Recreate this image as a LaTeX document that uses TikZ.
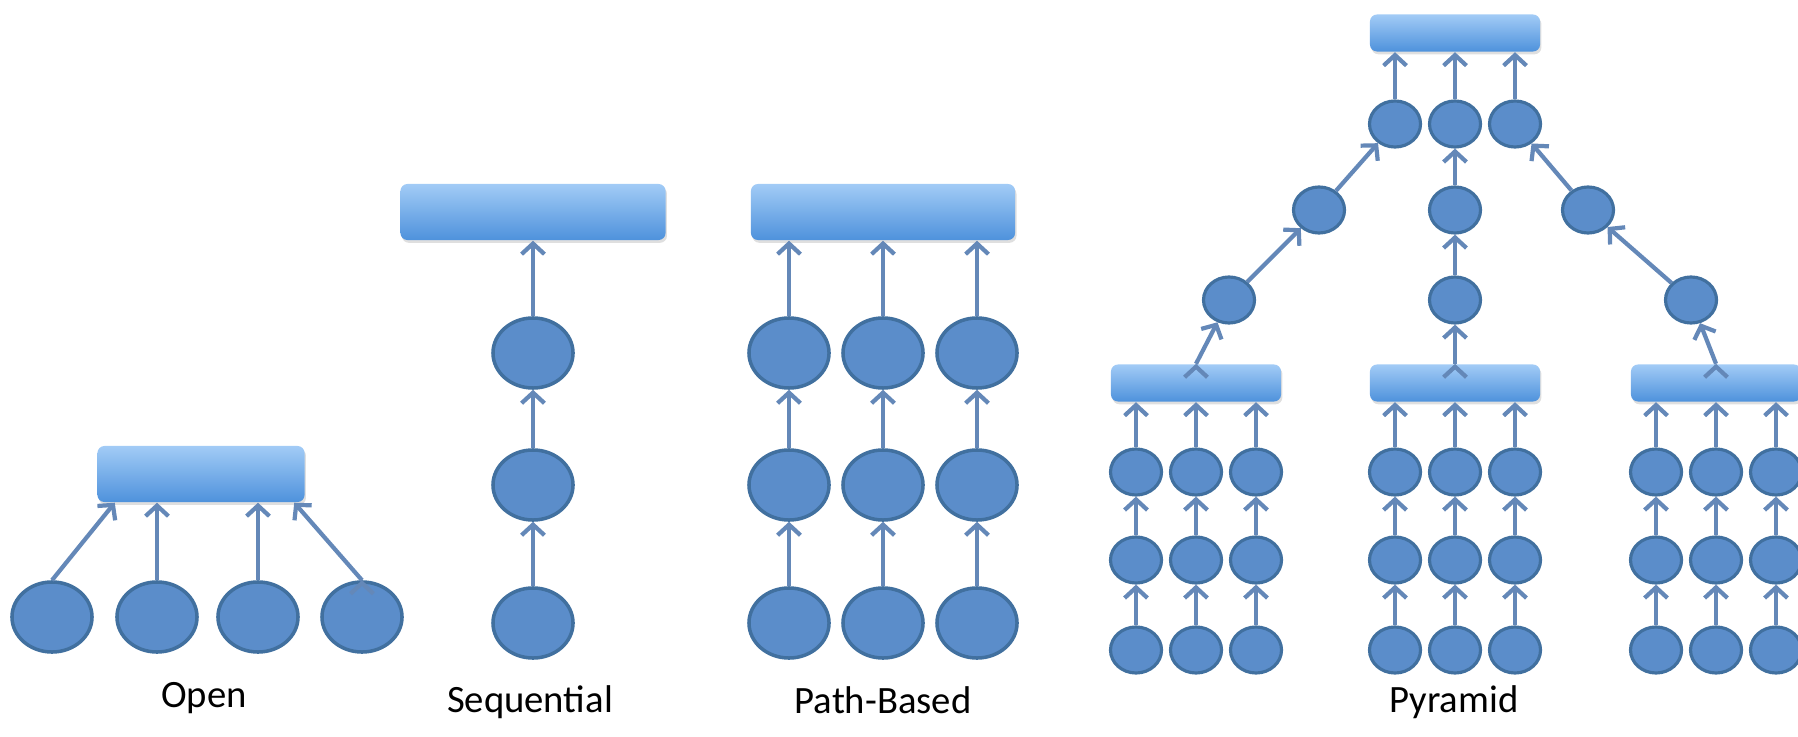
\documentclass[tikz,border=0pt]{standalone}
\usepackage{fontspec}
\setmainfont{Carlito}
\usetikzlibrary{positioning,shapes.geometric,arrows.meta,shadows}
\definecolor{nodeblue}{HTML}{5B8DCA}
\definecolor{nodeedge}{HTML}{41709F}
\definecolor{barlight}{HTML}{A2CBF6}
\definecolor{bardark}{HTML}{4E92DC}
\definecolor{arrowblue}{HTML}{6488B8}
\tikzset{
  bigunit/.style={ellipse,fill=nodeblue,draw=nodeedge,line width=1pt,inner sep=0pt,
    minimum width=0.8cm,minimum height=0.7cm},
  smallunit/.style={ellipse,fill=nodeblue,draw=nodeedge,line width=0.9pt,inner sep=0pt,
    minimum width=0.51cm,minimum height=0.46cm},
  barbox/.style={rectangle,rounded corners=2pt,top color=barlight,bottom color=bardark,
    inner sep=0pt,drop shadow={opacity=0.25,shadow xshift=0.4pt,shadow yshift=-0.8pt}},
  bigbar/.style={barbox,minimum height=0.56cm},
  smallbar/.style={barbox,minimum width=1.7cm,minimum height=0.37cm},
  link/.style={draw=arrowblue,line width=1.2pt,-{Straight Barb[length=3pt,width=6.5pt]}},
  typename/.style={font=\fontsize{11}{13}\selectfont}
}

\begin{document}
\begin{tikzpicture}[x=0.01cm,y=-0.01cm]
\useasboundingbox (0,0) rectangle (1798,737);
\clip (0,0) rectangle (1798,737);

% Open
\node[bigbar,minimum width=2.07cm] (obar) at (201,474) {};
\foreach \i/\x in {1/52,2/157,3/258,4/362}
  \node[bigunit] (o\i) at (\x,617) {};
\path[link]
  (o1.north) edge ([xshift=0.18cm]obar.south west)
  (o2) edge (o2 |- obar.south)
  (o3) edge (o3 |- obar.south)
  (o4.north) edge ([xshift=-0.11cm]obar.south east)
  ;

% Sequential
\node[bigbar,minimum width=2.65cm] (sbar) at (533,212) {};
\foreach \r/\y in {1/353,2/485,3/623}
  \node[bigunit] (s\r) at (533,\y) {};
\path[link]
  (s3) edge (s2)
  (s2) edge (s1)
  (s1) edge (s1 |- sbar.south)
  ;

% Path-Based
\node[bigbar,minimum width=2.64cm] (pbar) at (883,212) {};
\foreach \c/\x in {1/789,2/883,3/977} {
  \foreach \r/\y in {1/353,2/485,3/623}
    \node[bigunit] (p\r\c) at (\x,\y) {};
  \path[link]
    (p3\c) edge (p2\c)
    (p2\c) edge (p1\c)
    (p1\c) edge (p1\c |- pbar.south);
}

% Pyramid: upper tree
\node[smallbar] (top) at (1455,33) {};
\node[smallunit] (t1) at (1395,124) {};
\node[smallunit] (t2) at (1455,124) {};
\node[smallunit] (t3) at (1515,124) {};
\node[smallunit] (m1) at (1319,210) {};
\node[smallunit] (m2) at (1455,210) {};
\node[smallunit] (m3) at (1588,210) {};
\node[smallunit] (l1) at (1229,300) {};
\node[smallunit] (l2) at (1455,300) {};
\node[smallunit] (l3) at (1691,300) {};

% Pyramid: lower groups
\foreach \g/\gx in {1/1196,2/1455,3/1716} {
  \node[smallbar] (g\g) at (\gx,383) {};
  \foreach \c/\dx in {1/-60,2/0,3/60} {
    \foreach \r/\y in {1/472,2/560,3/650}
      \node[smallunit] (q\g-\r-\c) at (\gx+\dx,\y) {};
    \path[link]
      (q\g-3-\c) edge (q\g-2-\c)
      (q\g-2-\c) edge (q\g-1-\c)
      (q\g-1-\c) edge (q\g-1-\c |- g\g.south);
  }
  \path[link]
    (g\g.north) edge (l\g)
    (l\g) edge (m\g)
    (m\g) edge (t\g)
    (t\g) edge (t\g |- top.south);
}

% names
\node[typename] (openname) at (204,698) {Open};
\node[typename] (seqname) at (530,702) {Sequential};
\node[typename] (pathname) at (883,700) {Path-Based};
\node[typename] (pyrname) at (1454,702) {Pyramid};
\end{tikzpicture}
\end{document}
